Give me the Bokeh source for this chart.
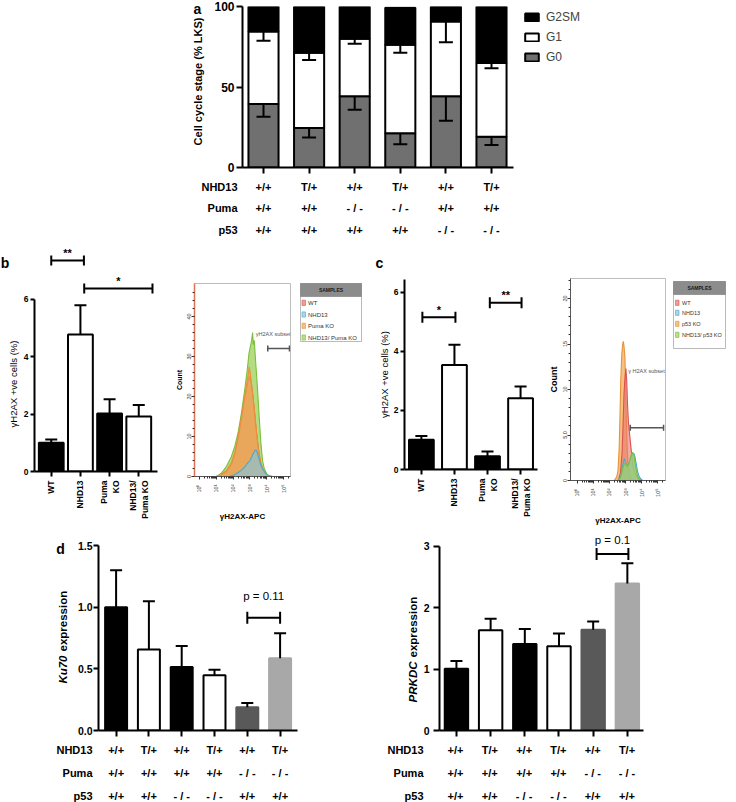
import numpy as np
from math import pi, log10
from bokeh.plotting import figure
from bokeh.layouts import row, column
from bokeh.models import (ColumnDataSource, Range1d, FixedTicker, Whisker, TeeHead,
                          Legend, LegendItem)
from bokeh.core.properties import value
from bokeh.embed import file_html
from bokeh.resources import INLINE

FONT = "Liberation Sans"

# ============================ DATA ============================
# (a) cell-cycle stage (% LKS), stacked G0 / G1 / G2SM
a_x = [1, 2, 3, 4, 5, 6]
a_g0 = [39.4, 24.5, 44.2, 21.2, 44.2, 19.1]
a_g1 = [45.0, 46.7, 35.7, 55.1, 46.5, 45.8]
a_g2sm = [15.6, 28.8, 20.1, 22.9, 9.3, 35.1]
a_g0_err = [7.9, 5.8, 8.3, 6.7, 15.2, 5.2]
a_g1_err = [5.6, 4.4, 3.1, 5.1, 12.9, 3.3]
a_nhd13 = ["+/+", "T/+", "+/+", "T/+", "+/+", "T/+"]
a_puma = ["+/+", "+/+", "- / -", "- / -", "+/+", "+/+"]
a_p53 = ["+/+", "+/+", "+/+", "+/+", "- / -", "- / -"]
row_names = ["NHD13", "Puma", "p53"]

# (b) gammaH2AX +ve cells (%)
b_x = [1, 2, 3, 4]
b_labels = ["WT", "NHD13", "Puma\nKO", "NHD13/\nPuma KO"]
b_vals = [1.0, 4.78, 2.02, 1.92]
b_err = [0.12, 1.02, 0.50, 0.40]
b_sig_text = ["**", "*"]
b_sig_x0 = [1.0, 2.13]
b_sig_x1 = [2.12, 4.47]
b_sig_y = [7.36, 6.38]
b_sig_ty = [7.62, 6.66]

# (b) flow histogram: decade (log10 gammaH2AX-APC) vs count
hb_wt_d = [-0.29, 1.0, 1.3, 1.6, 1.9, 2.1, 2.3, 2.5, 2.65, 2.8, 2.9, 2.98, 3.05, 3.15, 3.25,
           3.35, 3.45, 3.55, 3.65, 3.8, 4.0, 4.3, 5.41]
hb_wt_c = [0, 0, 0.4, 1.2, 3, 5.5, 9.5, 14.5, 18.5, 22, 24, 25, 24, 21, 17,
           12.5, 8.5, 5.5, 3, 1.2, 0.4, 0, 0]
hb_ko_d = [1.0, 1.3, 1.6, 1.9, 2.1, 2.3, 2.5, 2.65, 2.8, 2.9, 2.96, 3.02, 3.1, 3.25, 3.35,
           3.45, 3.55, 3.65, 3.84, 4.0, 4.3]
hb_ko_c = [0, 0.5, 1.5, 3.5, 6, 10, 15, 19, 23, 25.5, 27.4, 26, 23, 17.4, 13,
           9.1, 5.5, 3.4, 1.2, 0.4, 0]
hb_dbl_d = [1.0, 1.3, 1.6, 1.9, 2.1, 2.3, 2.5, 2.7, 2.85, 2.95, 3.05, 3.1, 3.16, 3.2, 3.26,
            3.32, 3.4, 3.45, 3.55, 3.65, 3.75, 3.85, 4.0, 4.2]
hb_dbl_c = [0, 0.8, 2.5, 5, 7.5, 11, 16, 22, 27, 31, 33, 34, 36, 33, 34,
            30, 25, 22, 15, 8.5, 4, 2, 0.6, 0]
hb_nhd_d = [1.8, 2.1, 2.3, 2.5, 2.7, 2.85, 3.0, 3.1, 3.2, 3.3, 3.38, 3.45, 3.55, 3.65,
            3.75, 3.9, 4.05, 4.2, 4.4]
hb_nhd_c = [0, 0.5, 1.0, 1.6, 2.4, 3.3, 4.0, 4.8, 5.8, 6.5, 6.6, 5.8, 4.2, 2.8,
            2.0, 1.0, 0.4, 0.1, 0]
hb_gate = (4.06, 5.35, 32)
hb_names = ["WT", "NHD13", "Puma KO", "NHD13/ Puma KO"]

# (c) gammaH2AX +ve cells (%)
c_x = [1, 2, 3, 4]
c_labels = ["WT", "NHD13", "Puma\nKO", "NHD13/\nPuma KO"]
c_vals = [1.01, 3.54, 0.45, 2.41]
c_err = [0.12, 0.68, 0.16, 0.40]
c_sig_text = ["*", "**"]
c_sig_x0 = [1.03, 3.07]
c_sig_x1 = [2.03, 4.03]
c_sig_y = [5.15, 5.64]
c_sig_ty = [5.40, 5.90]

# (c) flow histogram
hc_wt_d = [-0.41, 2.55, 2.68, 2.78, 2.84, 2.9, 2.96, 3.02, 3.07, 3.12, 3.18, 3.24, 3.31,
           3.38, 3.45, 3.55, 3.65, 3.8, 3.95, 5.47]
hc_wt_c = [0, 0, 0.8, 3, 6, 9.5, 11.3, 12.3, 11, 8.3, 6.3, 5.2, 4.0,
           2.8, 1.8, 1.0, 0.5, 0.15, 0, 0]
hc_ko_d = [2.3, 2.45, 2.53, 2.6, 2.65, 2.7, 2.76, 2.82, 2.86, 2.9, 2.96, 3.0, 3.05, 3.1,
           3.15, 3.22, 3.35, 3.5]
hc_ko_c = [0, 0.4, 1.1, 3.5, 7, 11, 13.8, 15, 15.3, 14.8, 13.5, 10.5, 6.5, 3.5,
           1.8, 0.8, 0.2, 0]
hc_nhd_d = [2.5, 2.65, 2.75, 2.85, 2.92, 2.98, 3.05, 3.12, 3.2, 3.3, 3.4, 3.5, 3.58,
            3.65, 3.72, 3.8, 3.9, 4.05]
hc_nhd_c = [0, 0.3, 0.9, 1.9, 2.4, 2.1, 1.6, 1.5, 1.8, 2.4, 2.8, 3.0, 2.6,
            1.9, 1.2, 0.6, 0.25, 0]
hc_dbl_d = [2.55, 2.7, 2.8, 2.9, 2.98, 3.08, 3.18, 3.28, 3.36, 3.42, 3.5, 3.58, 3.65,
            3.72, 3.82, 3.95]
hc_dbl_c = [0, 0.4, 1.2, 1.8, 1.9, 1.6, 1.7, 2.4, 2.9, 3.1, 2.9, 2.0, 1.2,
            0.6, 0.2, 0]
hc_gate = (3.29, 5.35, 5.8)
hc_names = ["WT", "NHD13", "p53 KO", "NHD13/ p53 KO"]

# (d) qPCR expression
d_x = [1, 2, 3, 4, 5, 6]
dl_vals = [1.0, 0.656, 0.516, 0.449, 0.188, 0.586]
dl_err = [0.30, 0.392, 0.169, 0.043, 0.035, 0.202]
dr_vals = [1.004, 1.633, 1.41, 1.373, 1.639, 2.393]
dr_err = [0.126, 0.185, 0.245, 0.206, 0.135, 0.331]
d_nhd13 = ["+/+", "T/+", "+/+", "T/+", "+/+", "T/+"]
d_puma = ["+/+", "+/+", "+/+", "+/+", "- / -", "- / -"]
d_p53 = ["+/+", "+/+", "- / -", "- / -", "+/+", "+/+"]
dl_sig = ("p = 0.11", 5.0, 6.0, 0.914, 1.09)
dr_sig = ("p = 0.1", 5.1, 6.03, 2.876, 3.11)

# ============================ STYLE ============================
BAR4 = ["black", "white", "black", "white"]
BAR6 = ["black", "white", "black", "white", "#595959", "#a8a8a8"]
BAR6_LINE = ["black", "black", "black", "black", "#595959", "#a8a8a8"]
H_FILL = {"wt": "#e8756c", "nhd": "#7cc7e8", "ko": "#f4a74f", "dbl": "#9bd05a"}
H_LINE = {"wt": "#d9534f", "nhd": "#4aa8d0", "ko": "#e8923a", "dbl": "#7bbf3a"}


class Geo:
    """Figure box and frame in page pixels, plus the data<->pixel mapping."""
    def __init__(self, box, frame, xmap, ymap):
        self.fx, self.fy, self.fw, self.fh = box
        self.l, self.t, self.r, self.b = frame
        self.xp, self.xv, self.xs = xmap
        self.yp, self.yv, self.ys = ymap

    def x(self, px):
        return self.xv + (px - self.xp) / self.xs

    def y(self, py):
        return self.yv + (self.yp - py) / self.ys

    def px(self, x):
        return self.xp + (x - self.xv) * self.xs

    def fig(self):
        p = figure(width=self.fw, height=self.fh, title=None,
                   x_range=Range1d(self.x(self.l), self.x(self.r)),
                   y_range=Range1d(self.y(self.b), self.y(self.t)),
                   output_backend="svg", toolbar_location=None, frame_align=False,
                   min_border_left=round(self.l - self.fx),
                   min_border_right=round(self.fx + self.fw - self.r),
                   min_border_top=round(self.t - self.fy),
                   min_border_bottom=round(self.fy + self.fh - self.b))
        p.grid.visible = False
        p.outline_line_color = None
        return p


def canvas(x0, y0, w, h):
    """Axis-less figure whose coordinates are page pixels (for titles, tables, legends)."""
    p = figure(width=w, height=h, x_range=Range1d(x0, x0 + w), y_range=Range1d(y0 + h, y0),
               output_backend="svg", toolbar_location=None, title=None, min_border=0,
               x_axis_location=None, y_axis_location=None, frame_align=False)
    p.grid.visible = False
    p.outline_line_color = None
    return p


def txt(p, x, y, s, size, style="bold", align="center", angle=0, color="black"):
    p.text(x=[x], y=[y], text=[s], angle=angle, text_align=align, text_baseline="middle",
           text_font=value(FONT), text_font_size=value(size), text_font_style=value(style),
           text_color=color)


def style_axis(ax, size, tick_out, standoff, bold=True, lw=2, color="black"):
    ax.axis_line_width = lw
    ax.axis_line_color = color
    ax.major_tick_line_width = lw
    ax.major_tick_line_color = "black"
    ax.major_tick_in = 0
    ax.major_tick_out = int(tick_out)
    ax.minor_tick_line_color = None
    ax.major_label_text_font = FONT
    ax.major_label_text_font_size = f"{size}px"
    ax.major_label_text_font_style = "bold" if bold else "normal"
    ax.major_label_text_color = "black"
    ax.major_label_standoff = int(standoff)
    ax.axis_label_text_font = FONT
    ax.axis_label_text_color = "black"


def category_ticks(ax, xs, tick_out=6):
    """Unlabelled tick marks at the categories (drawn as the axis' minor ticks)."""
    ax.ticker = FixedTicker(ticks=[], minor_ticks=xs)
    ax.minor_tick_line_color = "black"
    ax.minor_tick_line_width = 2
    ax.minor_tick_in = 0
    ax.minor_tick_out = tick_out


def table(box, g, xs, rows, rows_py, label_right_px, size="11px"):
    p = canvas(*box)
    cx, cy, ct = [], [], []
    for vals, py in zip(rows, rows_py):
        cx += [g.px(x) for x in xs]
        cy += [py] * len(xs)
        ct += list(vals)
    p.text(x=cx, y=cy, text=ct, text_align="center", text_baseline="middle",
           text_font=value(FONT), text_font_size=value(size), text_font_style=value("bold"))
    p.text(x=[label_right_px] * 3, y=rows_py, text=row_names, text_align="right",
           text_baseline="middle", text_font=value(FONT), text_font_size=value(size),
           text_font_style=value("bold"))
    return p


def up_whisker(p, xs, vals, errs, head):
    src = ColumnDataSource(dict(x=xs, lo=vals, up=list(np.array(vals) + np.array(errs))))
    p.add_layout(Whisker(source=src, base="x", lower="lo", upper="up", lower_head=None,
                         upper_head=TeeHead(size=head, line_width=2, line_color="black"),
                         line_width=2, line_color="black", level="annotation"))


def brackets(p, x0, x1, y, head, lw=2, color="black"):
    src = ColumnDataSource(dict(y=y, x0=x0, x1=x1))
    p.add_layout(Whisker(source=src, base="y", lower="x0", upper="x1", dimension="width",
                         lower_head=TeeHead(size=head, line_width=lw, line_color=color),
                         upper_head=TeeHead(size=head, line_width=lw, line_color=color),
                         line_width=lw, line_color=color, level="annotation"))


# ============================ PANEL a ============================
ta = canvas(0, 0, 206, 176)
txt(ta, 197, 8.5, "a", "14px")
txt(ta, 197, 81, "Cell cycle stage (% LKS)", "11px", angle=pi / 2)

ga = Geo((206, 0, 530, 176), (242, 6, 732, 167), (263, 1, 45.6), (167, 0, 1.61))
pa = ga.fig()
src_a = ColumnDataSource(dict(x=a_x, G0=a_g0, G1=a_g1, G2SM=a_g2sm))
stack = pa.vbar_stack(["G0", "G1", "G2SM"], x="x", width=0.66, source=src_a,
                      fill_color=["#707070", "white", "black"], line_color="black", line_width=2)
top0 = np.array(a_g0)
top1 = top0 + np.array(a_g1)
src_ae = ColumnDataSource(dict(x=a_x + a_x, up=list(top0) + list(top1),
                               lo=list(top0 - np.array(a_g0_err)) + list(top1 - np.array(a_g1_err))))
pa.add_layout(Whisker(source=src_ae, base="x", upper="up", lower="lo", upper_head=None,
                      lower_head=TeeHead(size=14, line_width=2, line_color="black"),
                      line_width=2, line_color="black", level="annotation"))
legend = Legend(items=[LegendItem(label="G2SM", renderers=[stack[2]]),
                       LegendItem(label="G1", renderers=[stack[1]]),
                       LegendItem(label="G0", renderers=[stack[0]])],
                location=(281, 100), padding=0, spacing=0, margin=0, label_height=20,
                glyph_height=10, glyph_width=17, label_standoff=6,
                label_text_font=FONT, label_text_font_size="12px",
                border_line_color=None, background_fill_alpha=0)
pa.add_layout(legend)
pa.yaxis.ticker = FixedTicker(ticks=[0, 50, 100])
style_axis(pa.yaxis[0], 12, 6, 2)
style_axis(pa.xaxis[0], 11, 6, 2)
category_ticks(pa.xaxis[0], a_x)
pa.xaxis.bounds = (ga.x(242), ga.x(513))

tab_a = table((0, 176, 736, 64), ga, a_x, [a_nhd13, a_puma, a_p53], [186, 207.5, 229], 237)


# ============================ PANELS b / c bars ============================
def bar_panel(g, xs, vals, errs, labels, sig_text, sx0, sx1, sy, sty, ytop, width,
              head_err, head_sig, axis_end_px):
    p = g.fig()
    p.vbar(x=xs, top=vals, width=width, fill_color=BAR4, line_color="black", line_width=2)
    up_whisker(p, xs, vals, errs, head_err)
    brackets(p, sx0, sx1, sy, head_sig)
    p.text(x=[(a + b) / 2 for a, b in zip(sx0, sx1)], y=sty, text=sig_text,
           text_align="center", text_baseline="middle", text_font=value(FONT),
           text_font_size=value("11px"), text_font_style=value("bold"), text_color="black")
    p.yaxis.ticker = FixedTicker(ticks=[0, 2, 4, 6])
    p.yaxis.bounds = (0, ytop)
    style_axis(p.yaxis[0], 8.5, 4, 2)
    p.xaxis.ticker = FixedTicker(ticks=xs)
    p.xaxis.major_label_overrides = {x: lab for x, lab in zip(xs, labels)}
    style_axis(p.xaxis[0], 8.5, 5, 4)
    p.xaxis.major_label_orientation = pi / 2
    p.xaxis.bounds = (g.x(g.l), g.x(axis_end_px))
    return p


tb = canvas(0, 240, 20, 290)
txt(tb, 4.5, 262, "b", "14px")
txt(tb, 12.5, 383.5, "\u03b3H2AX +ve cells (%)", "9.5px", style="normal", angle=pi / 2)

gb = Geo((20, 240, 152, 290), (32, 248, 170, 471), (49, 1, 29.6), (471, 0, 28.67))
pb = bar_panel(gb, b_x, b_vals, b_err, b_labels, b_sig_text, b_sig_x0, b_sig_x1, b_sig_y,
               b_sig_ty, 6, 0.85, 12, 10, 157)

tc = canvas(368, 240, 22, 290)
txt(tc, 379, 262, "c", "14px")
txt(tc, 383.5, 374, "\u03b3H2AX +ve cells (%)", "9.5px", style="normal", angle=pi / 2)

gc = Geo((390, 240, 155, 290), (403, 248, 543, 469), (420, 1, 33.3), (469, 0, 29.55))
pc = bar_panel(gc, c_x, c_vals, c_err, c_labels, c_sig_text, c_sig_x0, c_sig_x1, c_sig_y,
               c_sig_ty, gc.y(279), 0.75, 12, 11, 537)


# ============================ histograms ============================
def hist_panel(g, curves, yticks, yminor, ylab_over, gate, gate_text, gate_txt_pos, count_size):
    p = g.fig()
    p.outline_line_color = "#bdbdbd"
    p.outline_line_width = 1
    for key, d, c, alpha in curves:
        p.varea(x=d, y1=0, y2=c, fill_color=H_FILL[key], fill_alpha=alpha)
        p.line(x=d, y=c, line_color=H_LINE[key], line_width=1.1)
    brackets(p, [gate[0]], [gate[1]], [gate[2]], 6, lw=1.5, color="#555555")
    p.text(x=[gate_txt_pos[0]], y=[gate_txt_pos[1]], text=[gate_text], text_align="center",
           text_baseline="middle", text_font=value(FONT), text_font_size=value("5.5px"),
           text_color="#555555")
    minor = [n + log10(k) for n in range(0, 6) for k in range(2, 10) if n + log10(k) < g.x(g.r)]
    p.xaxis.ticker = FixedTicker(ticks=[0, 1, 2, 3, 4, 5], minor_ticks=minor)
    p.xaxis.major_label_overrides = {0: "10\u2070", 1: "10\u00b9", 2: "10\u00b2", 3: "10\u00b3",
                                     4: "10\u2074", 5: "10\u2075"}
    p.yaxis.ticker = FixedTicker(ticks=yticks, minor_ticks=yminor)
    if ylab_over:
        p.yaxis.major_label_overrides = ylab_over
    for ax in (p.xaxis[0], p.yaxis[0]):
        style_axis(ax, 5.5, 3, 2, bold=False, lw=1, color="#555555")
        ax.major_tick_line_color = "#333333"
        ax.minor_tick_line_color = "#333333"
        ax.minor_tick_in = 0
        ax.minor_tick_out = 2
        ax.major_label_text_color = "#333333"
        ax.axis_label_text_font_style = "bold"
    p.xaxis.major_label_orientation = pi / 2
    p.yaxis.major_label_orientation = "vertical"
    p.xaxis.major_label_standoff = 5
    p.yaxis.major_label_standoff = 1
    p.xaxis.axis_label = "\u03b3H2AX-APC"
    p.xaxis.axis_label_text_font_size = "8px"
    p.xaxis.axis_label_standoff = 16
    p.yaxis.axis_label = "Count"
    p.yaxis.axis_label_text_font_size = count_size
    p.yaxis.axis_label_standoff = 1
    return p


ghb = Geo((172, 240, 124, 290), (193, 283, 290, 476), (198, 0, 17), (476, 0, 4.0))
phb = hist_panel(ghb, [("dbl", hb_dbl_d, hb_dbl_c, 0.75), ("wt", hb_wt_d, hb_wt_c, 0.5),
                       ("ko", hb_ko_d, hb_ko_c, 0.7), ("nhd", hb_nhd_d, hb_nhd_c, 0.6)],
                 [0, 10, 20, 30, 40], list(range(2, 48, 2)), None, hb_gate,
                 "\u03b3H2AX subset", (ghb.x(272.5), ghb.y(333.5)), "7px")
phb.yaxis.axis_line_color = "#e07050"
phb.yaxis.axis_line_width = 1.5

ghc = Geo((545, 240, 123, 290), (565, 278, 665, 480), (572, 0, 17), (480, 0, 9.1))
phc = hist_panel(ghc, [("ko", hc_ko_d, hc_ko_c, 0.7), ("wt", hc_wt_d, hc_wt_c, 0.6),
                       ("nhd", hc_nhd_d, hc_nhd_c, 0.6), ("dbl", hc_dbl_d, hc_dbl_c, 0.65)],
                 [0, 5, 10, 15, 20], [v for v in range(1, 23) if v % 5], {5: "5.0"}, hc_gate,
                 "\u03b3 H2AX subset", (ghc.x(645), ghc.y(370)), "9px")


def samples_legend(box, frame, header_b, rows_y, names, sw, txt_x, fsize):
    p = canvas(*box)
    l, t, r, b = frame
    p.quad(left=[l], right=[r], top=[t], bottom=[b], fill_color="white",
           line_color="#a8a8a8", line_width=0.8)
    p.quad(left=[l], right=[r], top=[t], bottom=[header_b], fill_color="#8c8c8c",
           line_color="#8c8c8c", line_width=0.8)
    txt(p, (l + r) / 2, (t + header_b) / 2, "SAMPLES", "5px", color="#1a1a1a")
    keys = ["wt", "nhd", "ko", "dbl"]
    p.quad(left=[sw[0]] * 4, right=[sw[1]] * 4, top=[y - 2.6 for y in rows_y],
           bottom=[y + 2.6 for y in rows_y], fill_color=[H_FILL[k] for k in keys],
           fill_alpha=0.7, line_color=[H_LINE[k] for k in keys], line_width=0.6)
    p.text(x=[txt_x] * 4, y=rows_y, text=names, text_align="left", text_baseline="middle",
           text_font=value(FONT), text_font_size=value(fsize), text_color="#333333")
    return p


plb = samples_legend((296, 240, 72, 290), (300, 283, 361, 341), 296,
                     [302.3, 314, 325.3, 337], hb_names, (301.5, 305), 307.5, "6px")
plc = samples_legend((668, 240, 68, 290), (673, 281, 725, 348), 294,
                     [302.3, 312.3, 323.3, 334.3], hc_names, (675, 678.5), 681.5, "5.5px")


# ============================ PANEL d ============================
def d_panel(g, vals, errs, width, yticks, yfmt, ytop, axis_end_px, sig, tick_out, standoff):
    p = g.fig()
    p.vbar(x=d_x, top=vals, width=width, fill_color=BAR6, line_color=BAR6_LINE, line_width=2)
    up_whisker(p, d_x, vals, errs, 12)
    brackets(p, [sig[1]], [sig[2]], [sig[3]], 12)
    p.text(x=[(sig[1] + sig[2]) / 2], y=[sig[4]], text=[sig[0]], text_align="center",
           text_baseline="middle", text_font=value(FONT), text_font_size=value("11.5px"),
           text_color="black")
    p.yaxis.ticker = FixedTicker(ticks=yticks)
    p.yaxis.major_label_overrides = yfmt
    p.yaxis.bounds = (0, ytop)
    style_axis(p.yaxis[0], 10.5, tick_out, standoff)
    style_axis(p.xaxis[0], 10, 6, 2)
    category_ticks(p.xaxis[0], d_x)
    p.xaxis.bounds = (g.x(g.l), g.x(axis_end_px))
    return p


def gene_title(box, x, y_split, gene, rest, letter=None):
    p = canvas(*box)
    txt(p, x, y_split, gene, "11.5px", style="bold italic", align="right", angle=pi / 2)
    txt(p, x, y_split - 4, rest, "11.5px", style="bold", align="left", angle=pi / 2)
    if letter:
        txt(p, letter[1], letter[2], letter[0], "14px")
    return p


tdl = gene_title((0, 530, 70, 212), 62, 655, "Ku70", "expression", ("d", 60, 548))
gdl = Geo((70, 530, 300, 212), (98, 540, 368, 730), (115.6, 1, 32.8), (730, 0, 123.3))
pdl = d_panel(gdl, dl_vals, dl_err, 0.67, [0, 0.5, 1.0, 1.5],
              {0: "0.0", 0.5: "0.5", 1: "1.0", 1.5: "1.5"}, 1.5, 297, dl_sig, 5, 1)

tdr = gene_title((370, 530, 50, 212), 412, 661, "PRKDC", "expression")
gdr = Geo((420, 530, 316, 212), (438, 532, 732, 730), (455, 1, 34.3), (730, 0, 61.4))
pdr = d_panel(gdr, dr_vals, dr_err, 0.685, [0, 1, 2, 3], {0: "0", 1: "1", 2: "2", 3: "3"}, 3,
              643, dr_sig, 6, 4)

tab_dl = table((0, 742, 370, 60), gdl, d_x, [d_nhd13, d_puma, d_p53], [749, 772, 795], 92)
tab_dr = table((370, 742, 366, 60), gdr, d_x, [d_nhd13, d_puma, d_p53], [749, 772, 795], 423)

layout = column(row(ta, pa), tab_a,
                row(tb, pb, phb, plb, tc, pc, phc, plc),
                row(tdl, pdl, tdr, pdr),
                row(tab_dl, tab_dr))
open("out.html", "w").write(file_html(layout, INLINE))
